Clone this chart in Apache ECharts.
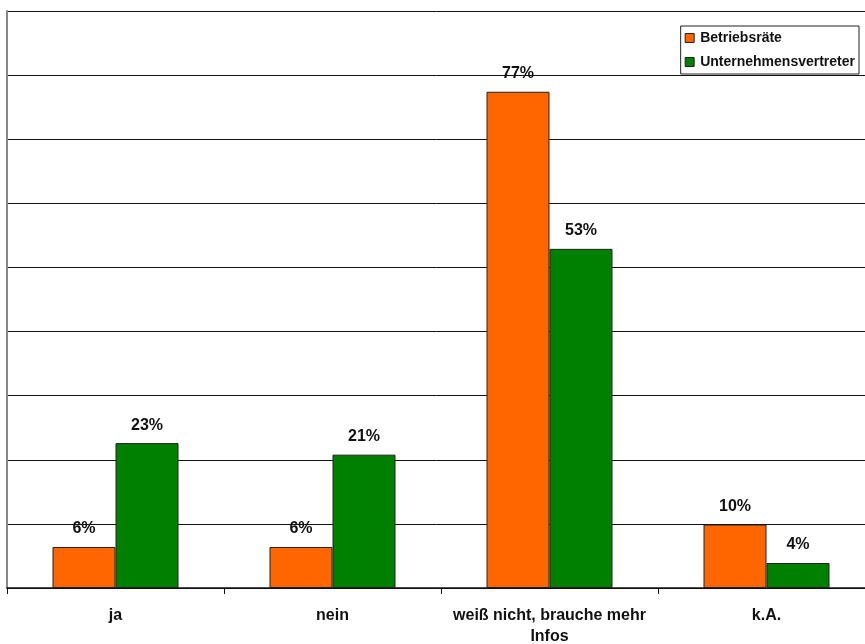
<!DOCTYPE html>
<html><head><meta charset="utf-8">
<script src="https://cdn.jsdelivr.net/npm/echarts@6/dist/echarts.min.js"></script>
<style>html,body{margin:0;padding:0;background:#fff}#c{width:865px;height:644px}</style>
</head><body><div id="c"></div>
<script>
const categories = ['ja', 'nein', 'weiß nicht, brauche mehr\nInfos', 'k.A.'];
const betriebsraete = [6.4, 6.4, 77.4, 9.9];
const unternehmensvertreter = [22.6, 20.8, 52.9, 3.9];
const labelsBR = ['6%', '6%', '77%', '10%'];
const labelsUV = ['23%', '21%', '53%', '4%'];

const chart = echarts.init(document.getElementById('c'), null, {renderer: 'canvas'});
const font = 'Liberation Sans, Arial, sans-serif';
function series(name, data, labels, color) {
  return {
    name: name, type: 'bar', data: data, barWidth: 63, barGap: '0%',
    itemStyle: {color: color, borderColor: '#222', borderWidth: 1},
    label: {show: true, position: 'top', distance: 10, fontFamily: font, fontWeight: 'bold', fontSize: 16, color: '#111',
      formatter: p => labels[p.dataIndex]}
  };
}
chart.setOption({
  animation: false,
  backgroundColor: '#fff',
  grid: {left: 7, top: 11, width: 868, height: 577, containLabel: false, outerBoundsMode: 'none'},
  legend: {
    right: 6, top: 26, orient: 'vertical', itemWidth: 9, itemHeight: 9, itemGap: 10,
    padding: [5, 4, 5, 4],
    backgroundColor: '#fff', borderColor: '#222', borderWidth: 1,
    textStyle: {fontFamily: font, fontWeight: 'bold', fontSize: 14, color: '#111', lineHeight: 14, padding: [0, 0, 0, 1]},
    icon: 'rect',
    data: [
      {name: 'Betriebsräte', itemStyle: {borderColor: '#222', borderWidth: 1}},
      {name: 'Unternehmensvertreter', itemStyle: {borderColor: '#222', borderWidth: 1}}
    ]
  },
  xAxis: {
    type: 'category', data: categories,
    axisLine: {lineStyle: {color: '#111', width: 1.5}},
    axisTick: {show: true, alignWithLabel: false, length: 6, lineStyle: {color: '#111'}},
    axisLabel: {fontFamily: font, fontWeight: 'bold', fontSize: 16, color: '#111', margin: 17, lineHeight: 21, interval: 0}
  },
  yAxis: {
    type: 'value', min: 0, max: 90, interval: 10,
    axisLine: {show: true, lineStyle: {color: '#888', width: 2}},
    axisTick: {show: false}, axisLabel: {show: false},
    splitLine: {lineStyle: {color: '#111', width: 1}}
  },
  series: [
    series('Betriebsräte', betriebsraete, labelsBR, '#FF6600'),
    series('Unternehmensvertreter', unternehmensvertreter, labelsUV, '#008000')
  ]
});
</script></body></html>
